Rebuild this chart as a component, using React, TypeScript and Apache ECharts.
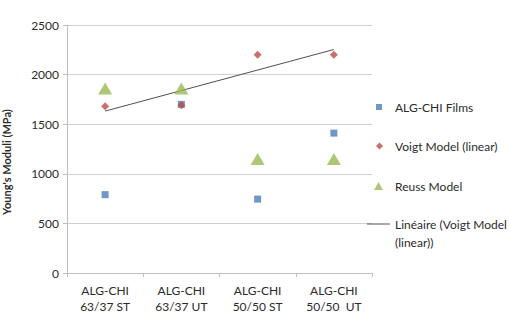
import React, { useEffect, useRef } from "react";
import * as echarts from "echarts";

const categories = [
  "ALG-CHI\n63/37 ST",
  "ALG-CHI\n63/37 UT",
  "ALG-CHI\n50/50 ST",
  "ALG-CHI\n50/50  UT",
];
const filmValues = [790, 1700, 745, 1410];
const voigtValues = [1680, 1690, 2200, 2200];
const reussValues = [1860, 1860, 1150, 1150];
const yTicks = { min: 0, max: 2500, interval: 500 };

// Least-squares linear trend through the Voigt model values
function linearTrend(values: number[]): number[] {
  const n = values.length;
  const xs = values.map((_, i) => i + 1);
  const mx = xs.reduce((a, b) => a + b, 0) / n;
  const my = values.reduce((a, b) => a + b, 0) / n;
  let num = 0;
  let den = 0;
  xs.forEach((x, i) => {
    num += (x - mx) * (values[i] - my);
    den += (x - mx) * (x - mx);
  });
  const slope = num / den;
  return xs.map((x) => my + slope * (x - mx));
}

const FONT = "Lato, 'Open Sans', sans-serif";
const TEXT = "#2b2b2b";
const BLUE = "#4a7ebb";
const RED = "#be4b48";
const GREEN = "#98b954";
const TREND = "#505050";

export default function App() {
  const ref = useRef<HTMLDivElement>(null);

  useEffect(() => {
    document.body.style.margin = "0";
    if (!ref.current) return;
    const chart = echarts.init(ref.current, undefined, { renderer: "svg" });
    const trend = linearTrend(voigtValues);
    const legendText = (pad: number) => ({
      fontFamily: FONT,
      fontSize: 12,
      color: TEXT,
      padding: [0, 0, 0, pad],
      overflow: "none" as const,
    });
    const legendBase = { padding: 0, selectedMode: false, width: 140 };
    chart.setOption({
      animation: false,
      textStyle: { fontFamily: FONT },
      grid: { left: 67, right: 137, top: 25, bottom: 44 },
      xAxis: {
        type: "category",
        data: categories,
        boundaryGap: true,
        axisLine: { lineStyle: { color: "#bfbfbf" } },
        axisTick: { show: true, length: 4, lineStyle: { color: "#bfbfbf" } },
        axisLabel: {
          fontFamily: FONT,
          fontSize: 12,
          color: TEXT,
          lineHeight: 16,
          margin: 9,
        },
      },
      yAxis: {
        type: "value",
        min: yTicks.min,
        max: yTicks.max,
        interval: yTicks.interval,
        axisLine: { show: true, lineStyle: { color: "#bfbfbf" } },
        axisTick: { show: true, length: 4, lineStyle: { color: "#bfbfbf" } },
        splitLine: { lineStyle: { color: "#d0d0d0" } },
        axisLabel: {
          fontFamily: FONT,
          fontSize: 12,
          color: TEXT,
          margin: 8,
          formatter: (v: number) => String(v),
        },
      },
      legend: [
        {
          ...legendBase,
          data: [{ name: "ALG-CHI Films", icon: "rect" }],
          left: 376,
          top: 101,
          itemWidth: 6,
          itemHeight: 6,
          textStyle: legendText(8),
        },
        {
          ...legendBase,
          data: [{ name: "Voigt Model (linear)", icon: "diamond" }],
          left: 376,
          top: 140,
          itemWidth: 7,
          itemHeight: 7,
          textStyle: legendText(7),
        },
        {
          ...legendBase,
          data: [{ name: "Reuss Model", icon: "triangle" }],
          left: 374,
          top: 180,
          itemWidth: 9,
          itemHeight: 8,
          textStyle: legendText(7),
        },
        {
          ...legendBase,
          data: [{ name: "Linéaire (Voigt Model (linear))", icon: "rect" }],
          left: 367,
          top: 218,
          itemWidth: 23,
          itemHeight: 1,
          itemStyle: { color: TREND },
          textStyle: legendText(0),
          formatter: () => "Linéaire (Voigt Model",
        },
      ],
      graphic: [
        {
          type: "text",
          left: 395,
          top: 236,
          style: { text: "(linear))", font: `12px ${FONT}`, fill: TEXT },
        },
        {
          type: "text",
          x: 1,
          y: 162,
          rotation: Math.PI / 2,
          style: {
            text: "Young's Moduli (MPa)",
            font: `bold 11px ${FONT}`,
            fill: TEXT,
            align: "center",
            verticalAlign: "top",
          },
        },
      ],
      series: [
        {
          name: "Linéaire (Voigt Model (linear))",
          type: "line",
          data: trend,
          symbol: "none",
          lineStyle: { color: TREND, width: 1 },
          itemStyle: { color: TREND },
          z: 1,
        },
        {
          name: "ALG-CHI Films",
          type: "scatter",
          data: filmValues,
          symbol: "rect",
          symbolSize: 7,
          itemStyle: { color: BLUE },
          z: 3,
        },
        {
          name: "Voigt Model (linear)",
          type: "scatter",
          data: voigtValues,
          symbol: "diamond",
          symbolSize: 8,
          itemStyle: { color: RED },
          z: 3,
        },
        {
          name: "Reuss Model",
          type: "scatter",
          data: reussValues,
          symbol: "triangle",
          symbolSize: [14, 12],
          itemStyle: { color: GREEN },
          z: 2,
        },
      ],
    });
    return () => chart.dispose();
  }, []);

  return <div ref={ref} style={{ width: 509, height: 317 }} />;
}
